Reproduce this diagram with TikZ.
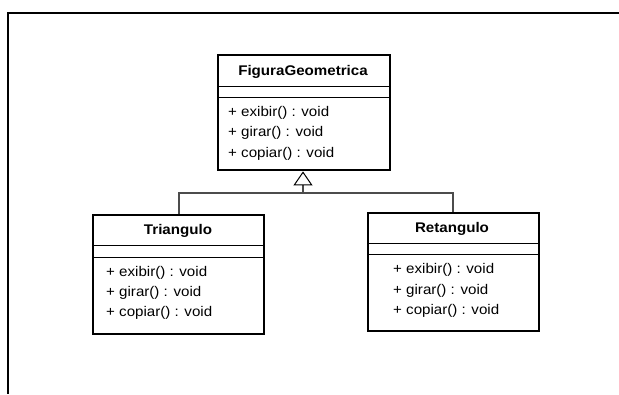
\documentclass[tikz,border=0pt]{standalone}
\usepackage{fontspec}
\setmainfont[FakeStretch=1.08]{Liberation Sans}
\usetikzlibrary{arrows.meta}

\tikzset{
  classbox/.style={draw=black, line width=2.4pt, fill=white, inner sep=0pt, anchor=north west},
  sepline/.style={draw=black, line width=1pt},
  classname/.style={font=\fontsize{14}{16}\selectfont\bfseries, inner sep=0pt},
  member/.style={font=\fontsize{14}{16}\selectfont, inner sep=0pt, anchor=west},
  conn/.style={draw=black!70, line width=1.2pt},
  inherit/.style={conn, -{Triangle[open, length=14pt, width=19pt, line width=1pt, color=black]}},
  frameline/.style={draw=black, line width=2pt},
}

\begin{document}
\begin{tikzpicture}[x=1pt, y=-1pt]
  \useasboundingbox (0,0) rectangle (619,394);

  % outer frame (top and left edges)
  \coordinate (fTL) at (8,13);
  \coordinate (fTR) at (619,13);
  \coordinate (fBL) at (8,394);
  \draw[frameline] (fTR) -- (fTL) -- (fBL);

  % class FiguraGeometrica
  \node[classbox, minimum width=172pt, minimum height=115pt] (fig) at (217,54) {};
  \draw[sepline] (217,86) -- (389,86);
  \draw[sepline] (217,97) -- (389,97);
  \node[classname] (figT) at (303,72) {FiguraGeometrica};
  \node[member] (figM1) at (228,113) {+ exibir() : void};
  \node[member] (figM2) at (228,133) {+ girar() : void};
  \node[member] (figM3) at (228,154) {+ copiar() : void};

  % class Triangulo
  \node[classbox, minimum width=171pt, minimum height=119pt] (tri) at (92,214) {};
  \draw[sepline] (92,245) -- (263,245);
  \draw[sepline] (92,257) -- (263,257);
  \node[classname] (triT) at (178,231) {Triangulo};
  \node[member] (triM1) at (106,273) {+ exibir() : void};
  \node[member] (triM2) at (106,293) {+ girar() : void};
  \node[member] (triM3) at (106,313) {+ copiar() : void};

  % class Retangulo
  \node[classbox, minimum width=171pt, minimum height=118pt] (ret) at (367,212) {};
  \draw[sepline] (367,243) -- (538,243);
  \draw[sepline] (367,254) -- (538,254);
  \node[classname] (retT) at (452,229) {Retangulo};
  \node[member] (retM1) at (393,270) {+ exibir() : void};
  \node[member] (retM2) at (393,291) {+ girar() : void};
  \node[member] (retM3) at (393,311) {+ copiar() : void};

  % generalization tree
  \coordinate (bus) at (303,193);
  \coordinate (triTop) at (179,214);
  \coordinate (retTop) at (453,212);
  \draw[conn] (triTop) |- (bus) -| (retTop);
  \draw[inherit] (bus) -- (fig.south -| bus);
\end{tikzpicture}
\end{document}
